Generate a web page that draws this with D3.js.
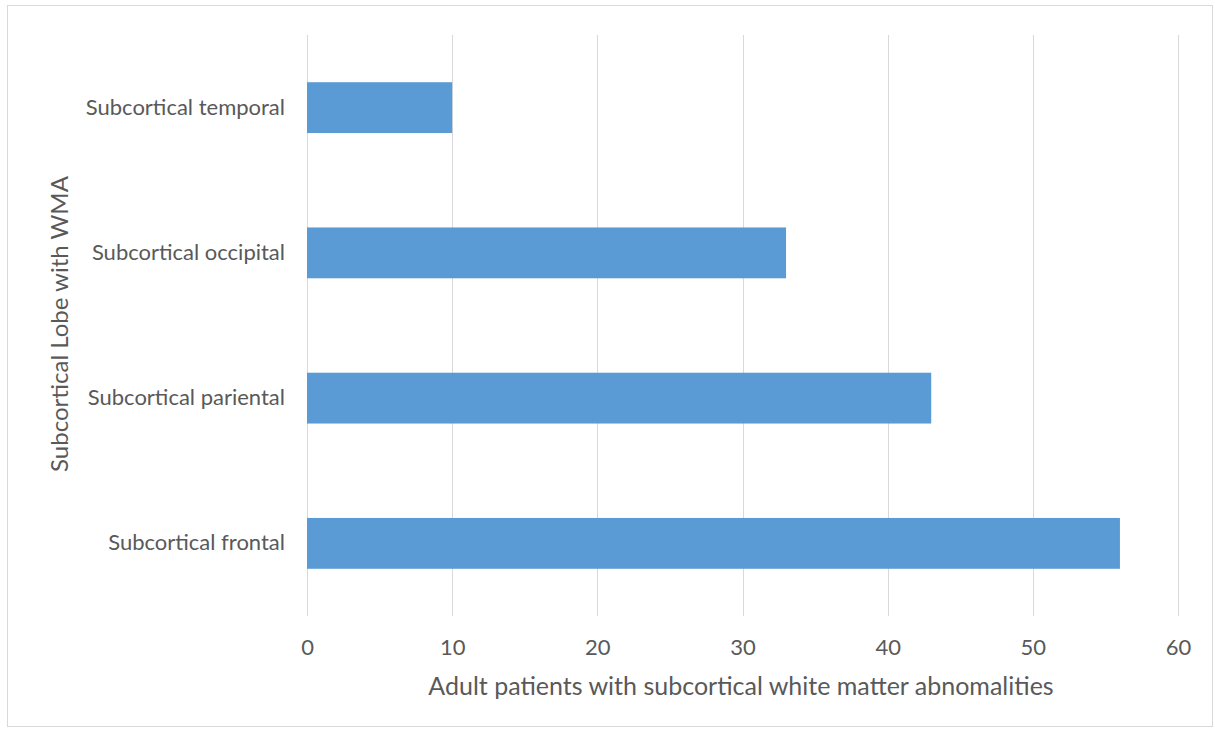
<!DOCTYPE html>
<html>
<head>
<meta charset="utf-8">
<script src="https://cdn.jsdelivr.net/npm/d3@7"></script>
<style>
  html, body { margin: 0; padding: 0; background: #fff; }
  svg text { font-family: Lato, "Open Sans", sans-serif; fill: #595959; }
</style>
</head>
<body>
<svg id="chart" width="1215" height="729"></svg>
<script>
// Subcortical lobes, listed top to bottom
const categories = ["Subcortical temporal", "Subcortical occipital", "Subcortical pariental", "Subcortical frontal"];
const patients = [10, 33, 43, 56];
const xTicks = [0, 10, 20, 30, 40, 50, 60];
const xTitle = "Adult patients with subcortical white matter abnomalities";
const yTitle = "Subcortical Lobe with WMA";

const svg = d3.select("#chart");
const plot = { left: 307, right: 1178, top: 35, bottom: 616 };

// chart frame
svg.append("rect")
  .attr("x", 7.5).attr("y", 5.5)
  .attr("width", 1205).attr("height", 721)
  .attr("fill", "#fff").attr("stroke", "#d9d9d9").attr("stroke-width", 1);

const x = d3.scaleLinear().domain([0, 60]).range([plot.left, plot.right]);
const y = d3.scaleBand().domain(categories).range([plot.top, plot.bottom]).paddingInner(0.65).paddingOuter(0.325);

// vertical gridlines
svg.append("g")
  .selectAll("line").data(xTicks).join("line")
  .attr("x1", d => Math.round(x(d)) + 0.5).attr("x2", d => Math.round(x(d)) + 0.5)
  .attr("y1", plot.top).attr("y2", plot.bottom)
  .attr("stroke", "#d9d9d9").attr("stroke-width", 1);

// bars
svg.append("g")
  .selectAll("rect").data(categories).join("rect")
  .attr("x", x(0))
  .attr("y", d => y(d))
  .attr("width", (d, i) => x(patients[i]) - x(0))
  .attr("height", y.bandwidth())
  .attr("fill", "#5b9bd5");

// x axis tick labels
const xAxis = d3.axisBottom(x).tickValues(xTicks).tickSize(0).tickPadding(0);
const gx = svg.append("g").attr("transform", `translate(0,${plot.bottom})`).call(xAxis);
gx.select(".domain").remove();
gx.selectAll("text")
  .attr("y", 31).attr("dy", "0.35em")
  .style("font-size", "22px").attr("fill", "#595959");

// y axis category labels
const yAxis = d3.axisLeft(y).tickSize(0).tickPadding(22);
const gy = svg.append("g").attr("transform", `translate(${plot.left},0)`).call(yAxis);
gy.select(".domain").remove();
gy.selectAll("text").style("font-size", "22px").attr("fill", "#595959");

// axis titles
svg.append("text")
  .attr("x", 741)
  .attr("y", 686).attr("dy", "0.35em")
  .attr("text-anchor", "middle")
  .style("font-size", "25px")
  .text(xTitle);

svg.append("text")
  .attr("transform", "translate(60,324) rotate(-90)")
  .attr("dy", "0.35em")
  .attr("text-anchor", "middle")
  .style("font-size", "24px")
  .text(yTitle);
</script>
</body>
</html>
